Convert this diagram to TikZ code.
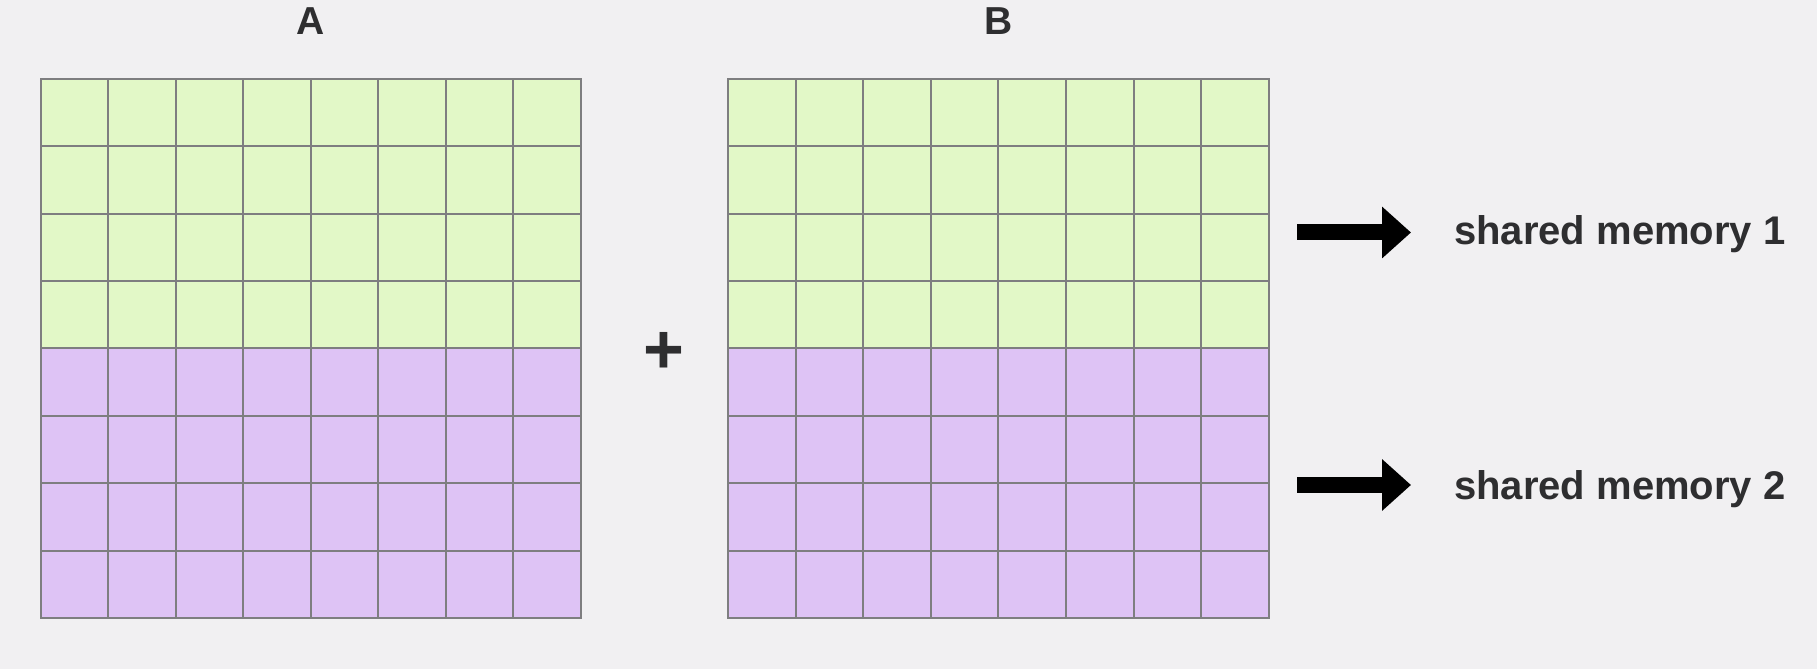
\documentclass[tikz,border=0pt]{standalone}
\usepackage{fontspec}
\setmainfont{Liberation Sans}
\usepackage{xcolor}
\usetikzlibrary{positioning, calc, arrows.meta}

\definecolor{bgcol}{HTML}{F1F0F2}
\definecolor{topcol}{HTML}{E2F8C7}
\definecolor{botcol}{HTML}{DEC3F5}
\definecolor{gridcol}{HTML}{7E7E80}
\definecolor{textcol}{HTML}{2E2E30}

\tikzset{
  cell/.style={draw=gridcol, line width=2pt},
  title/.style={text=textcol, inner sep=0pt, font=\fontsize{39}{46}\selectfont\bfseries},
  memlabel/.style={text=textcol, inner sep=0pt, anchor=base west, font=\fontsize{40}{48}\selectfont\bfseries},
  bigarrow/.style={line width=16pt, -{Triangle[length=29pt, width=50pt]}},
}

\begin{document}
\begin{tikzpicture}[x=1pt, y=1pt]
    \fill[bgcol] (0,0) rectangle (1817,669);
    \useasboundingbox (0,0) rectangle (1817,669);

    % matrix A
    \foreach \c in {0,...,7} {
        \foreach \r in {0,...,3}
            \draw[cell, fill=botcol] (40.5+67.5*\c, 51+67.4*\r) rectangle ++(67.5,67.4);
        \foreach \r in {4,...,7}
            \draw[cell, fill=topcol] (40.5+67.5*\c, 51+67.4*\r) rectangle ++(67.5,67.4);
    }
    \node[title, anchor=base] (labelA) at (310.5,634) {A};

    % matrix B
    \foreach \c in {0,...,7} {
        \foreach \r in {0,...,3}
            \draw[cell, fill=botcol] (728+67.6*\c, 51+67.4*\r) rectangle ++(67.6,67.4);
        \foreach \r in {4,...,7}
            \draw[cell, fill=topcol] (728+67.6*\c, 51+67.4*\r) rectangle ++(67.6,67.4);
    }
    \node[title, anchor=base] (labelB) at (998.5,634) {B};

    \node[title, font=\fontsize{70}{72}\selectfont\bfseries] (plus) at (663.7,316) {+};

    % shared memory arrows
    \coordinate (sm1from) at (1297,436.5);
    \coordinate (sm1to)   at (1411,436.5);
    \coordinate (sm2from) at (1297,184);
    \coordinate (sm2to)   at (1411,184);
    \draw[bigarrow] (sm1from) -- (sm1to);
    \draw[bigarrow] (sm2from) -- (sm2to);
    \node[memlabel] (mem1) at ($(sm1to)+(43,-12)$) {shared memory 1};
    \node[memlabel] (mem2) at ($(sm2to)+(43,-15)$) {shared memory 2};
\end{tikzpicture}
\end{document}
